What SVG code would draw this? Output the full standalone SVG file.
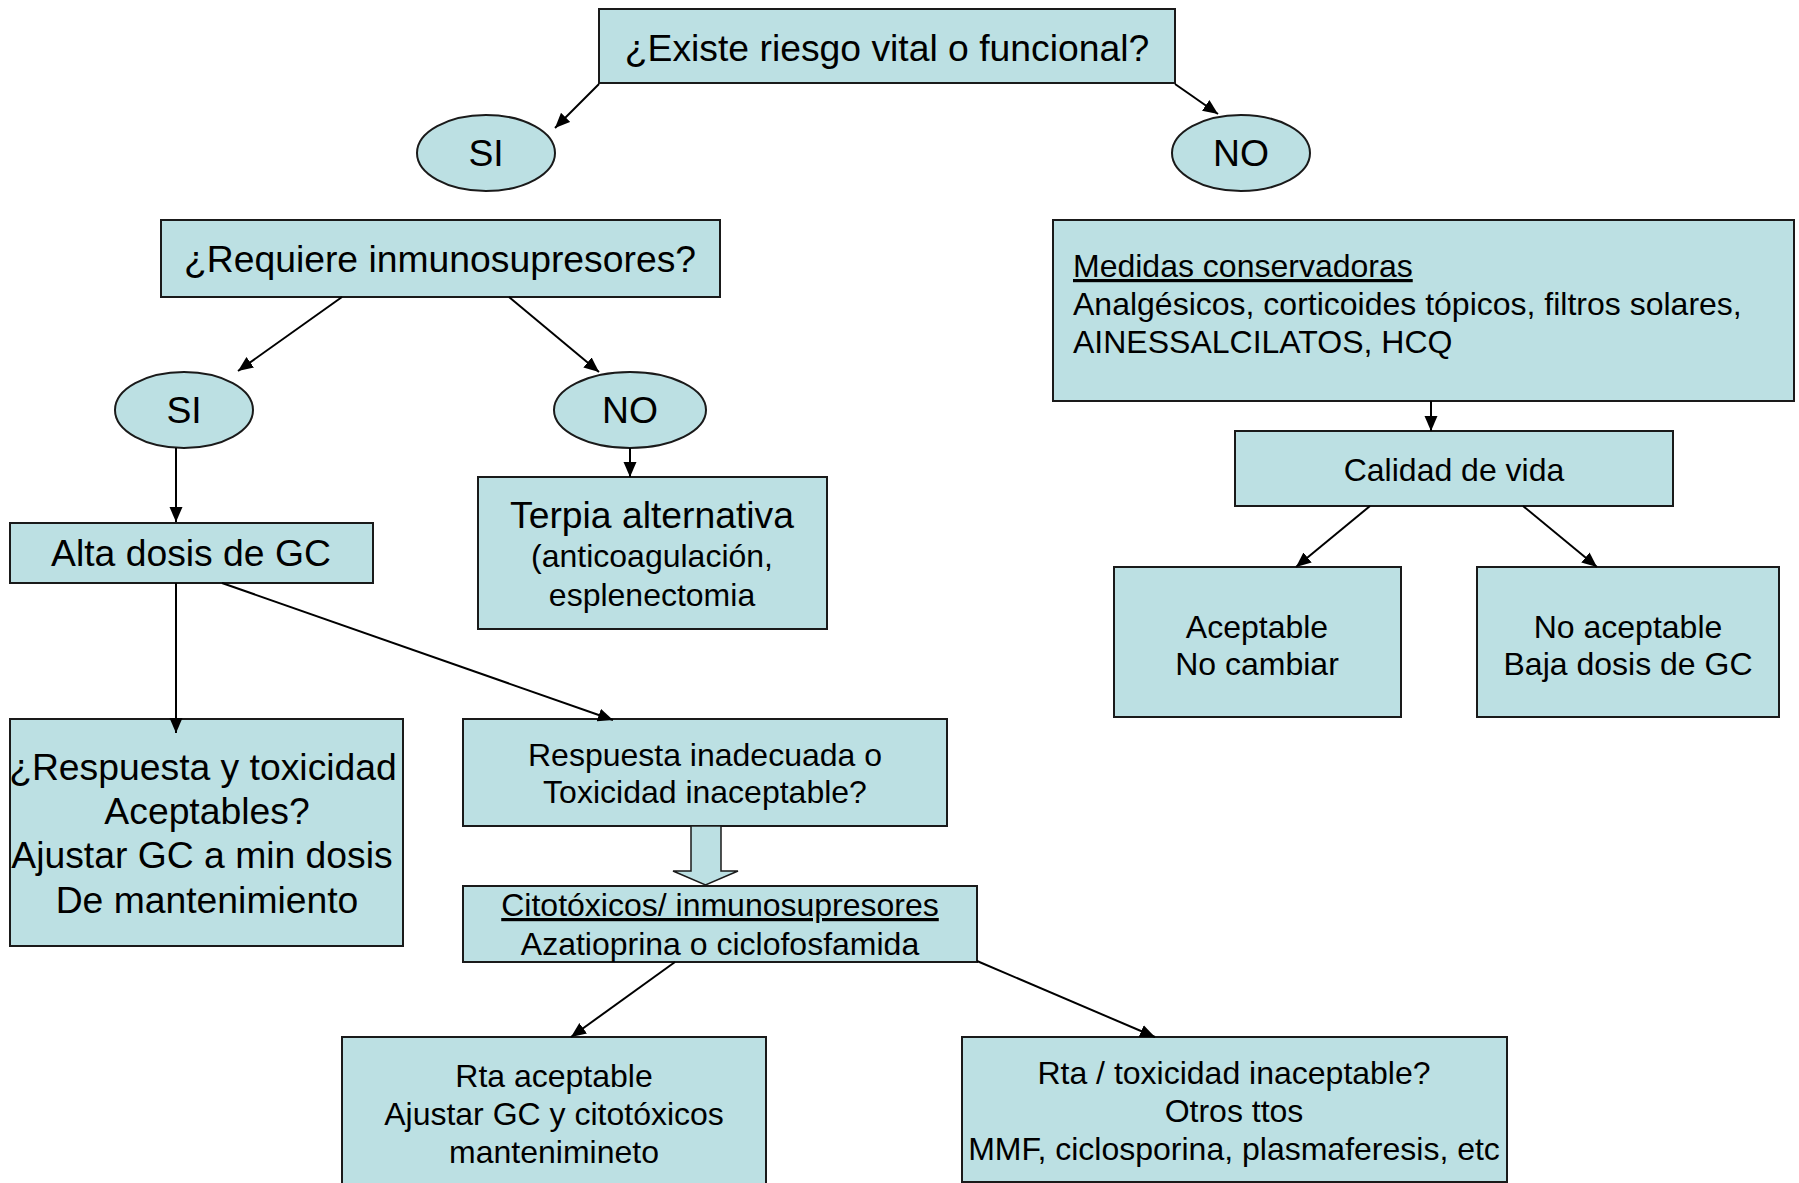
<svg xmlns="http://www.w3.org/2000/svg" width="1799" height="1183" viewBox="0 0 1799 1183">
<style>
.b{fill:#bce0e3;stroke:#1a1a1a;stroke-width:2}
.t{font-family:"Liberation Sans",Arial,Helvetica,sans-serif;fill:#000;text-anchor:middle}
.L{font-size:37.3px}
.S{font-size:32px}
.c{stroke:#000;stroke-width:2;fill:none;marker-end:url(#ah)}
.u{text-decoration:underline}
</style>
<defs>
<marker id="ah" markerUnits="userSpaceOnUse" markerWidth="16" markerHeight="14" refX="15" refY="6.5" orient="auto">
<path d="M0,0 L15,6.5 L0,13 z" fill="#000"/>
</marker>
</defs>
<rect width="1799" height="1183" fill="#fff"/>

<g id="q1"><rect class="b" x="599" y="9" width="576" height="74"/><text class="t L" x="887" y="61">¿Existe riesgo vital o funcional?</text></g>
<g id="si1"><ellipse class="b" cx="486" cy="153" rx="69" ry="38"/><text class="t L" x="486" y="166">SI</text></g>
<g id="no1"><ellipse class="b" cx="1241" cy="153" rx="69" ry="38"/><text class="t L" x="1241" y="166">NO</text></g>

<g id="q2"><rect class="b" x="161" y="220" width="559" height="77"/><text class="t L" x="440" y="272">¿Requiere inmunosupresores?</text></g>
<g id="si2"><ellipse class="b" cx="184" cy="410" rx="69" ry="38"/><text class="t L" x="184" y="423">SI</text></g>
<g id="no2"><ellipse class="b" cx="630" cy="410" rx="76" ry="38"/><text class="t L" x="630" y="423">NO</text></g>

<g id="alta"><rect class="b" x="10" y="523" width="363" height="60"/><text class="t L" x="191" y="566">Alta dosis de GC</text></g>
<g id="terpia"><rect class="b" x="478" y="477" width="349" height="152"/>
<text class="t L" x="652" y="528">Terpia alternativa</text>
<text class="t S" x="652" y="567">(anticoagulación,</text>
<text class="t S" x="652" y="606">esplenectomia</text></g>

<g id="resp1"><rect class="b" x="10" y="719" width="393" height="227"/>
<text class="t L" x="203" y="780">¿Respuesta y toxicidad</text>
<text class="t L" x="207" y="824">Aceptables?</text>
<text class="t L" x="202" y="868">Ajustar GC a min dosis</text>
<text class="t L" x="207" y="913">De mantenimiento</text></g>

<g id="resp2"><rect class="b" x="463" y="719" width="484" height="107"/>
<text class="t S" x="705" y="766">Respuesta inadecuada o</text>
<text class="t S" x="705" y="803">Toxicidad inaceptable?</text></g>

<g id="cito"><rect class="b" x="463" y="886" width="514" height="76"/>
<text class="t S u" x="720" y="916">Citotóxicos/ inmunosupresores</text>
<text class="t S" x="720" y="955">Azatioprina o ciclofosfamida</text></g>

<g id="rta1"><rect class="b" x="342" y="1037" width="424" height="150"/>
<text class="t S" x="554" y="1087">Rta aceptable</text>
<text class="t S" x="554" y="1125">Ajustar GC y citotóxicos</text>
<text class="t S" x="554" y="1163">mantenimineto</text></g>

<g id="rta2"><rect class="b" x="962" y="1037" width="545" height="145"/>
<text class="t S" x="1234" y="1084">Rta / toxicidad inaceptable?</text>
<text class="t S" x="1234" y="1122">Otros ttos</text>
<text class="t S" x="1234" y="1160">MMF, ciclosporina, plasmaferesis, etc</text></g>

<g id="medidas"><rect class="b" x="1053" y="220" width="741" height="181"/>
<text class="t S u" x="1073" y="277" style="text-anchor:start">Medidas conservadoras</text>
<text class="t S" x="1073" y="315" style="text-anchor:start">Analgésicos, corticoides tópicos, filtros solares,</text>
<text class="t S" x="1073" y="353" style="text-anchor:start">AINESSALCILATOS, HCQ</text></g>

<g id="calidad"><rect class="b" x="1235" y="431" width="438" height="75"/><text class="t S" x="1454" y="481">Calidad de vida</text></g>
<g id="acept"><rect class="b" x="1114" y="567" width="287" height="150"/>
<text class="t S" x="1257" y="638">Aceptable</text>
<text class="t S" x="1257" y="675">No cambiar</text></g>
<g id="noacept"><rect class="b" x="1477" y="567" width="302" height="150"/>
<text class="t S" x="1628" y="638">No aceptable</text>
<text class="t S" x="1628" y="675">Baja dosis de GC</text></g>

<g id="connectors">
<line class="c" x1="599" y1="84" x2="555" y2="128"/>
<line class="c" x1="1175" y1="84" x2="1218" y2="114"/>
<line class="c" x1="342" y1="297" x2="238" y2="371"/>
<line class="c" x1="509" y1="297" x2="599" y2="372"/>
<line class="c" x1="176" y1="448" x2="176" y2="522"/>
<line class="c" x1="630" y1="448" x2="630" y2="477"/>
<line class="c" x1="176" y1="583" x2="176" y2="733"/>
<line class="c" x1="222" y1="583" x2="613" y2="720"/>
<polygon points="691,826 721,826 721,871 738,871 705.5,885 673,871 691,871" fill="#bce0e3" stroke="#1a1a1a" stroke-width="1.5"/>
<line class="c" x1="675" y1="962" x2="571" y2="1037"/>
<line class="c" x1="977" y1="961" x2="1155" y2="1037"/>
<line class="c" x1="1431" y1="401" x2="1431" y2="431"/>
<line class="c" x1="1370" y1="506" x2="1296" y2="567"/>
<line class="c" x1="1523" y1="506" x2="1597" y2="567"/>
</g>
</svg>
